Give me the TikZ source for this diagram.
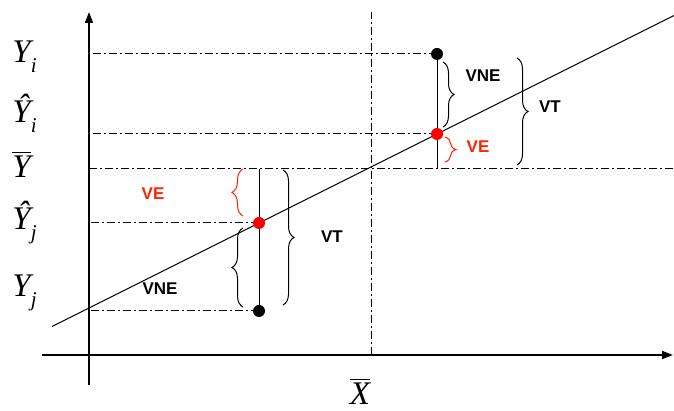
\documentclass[tikz,border=0pt]{standalone}
\usepackage{amsmath}
\usepackage{fontspec}
\setmainfont{Liberation Serif}
\setsansfont{Liberation Sans}
\usepackage{tikz}
\usetikzlibrary{arrows.meta, positioning, decorations.pathreplacing}
\definecolor{vered}{RGB}{255,36,0}
\newcommand{\ty}[1]{\text{\itshape #1}}
\newcommand{\tsub}[1]{\raisebox{-6pt}{\fontsize{21}{22}\selectfont\itshape #1}}

\begin{document}
\begin{tikzpicture}[x=1pt, y=1pt, >={Triangle[length=11pt, width=8pt]}, line width=1pt,
      ax/.style={->, line width=1.6pt},
      guide/.style={line width=1pt, dash pattern=on 8pt off 3pt on 2pt off 3pt},
      pt/.style={circle, fill=black, inner sep=0pt, minimum size=12pt},
      brc/.style={decorate, decoration={brace, amplitude=11pt}, line width=1pt},
      lbl/.style={font=\sffamily\bfseries\fontsize{17}{19}\selectfont, inner sep=1pt},
      ylbl/.style={anchor=base west, font=\fontsize{33}{40}\selectfont, inner sep=0pt}]

    \useasboundingbox (0,0) rectangle (674,411);

    % Axes
    \coordinate (ybot) at (89,26);
    \coordinate (ytop) at (89,399);
    \coordinate (xl)   at (42,56);
    \coordinate (xr)   at (673,56);
    \draw[ax] (ybot) -- (ytop);
    \draw[ax] (xl) -- (xr);

    % Means: vertical at X bar, horizontal at Y bar
    \coordinate (xm0) at (371,56);
    \coordinate (xm1) at (371,399);
    \coordinate (ym0) at (89,242);
    \coordinate (ym1) at (674,242);
    \draw[guide] (xm0) -- (xm1);
    \draw[guide] (ym0) -- (ym1);

    % Regression line
    \coordinate (r0) at (52,84.5);
    \coordinate (r1) at (674,395.5);
    \draw (r0) -- (r1);

    % Observation i (above the mean) and j (below the mean)
    \coordinate (yi)   at (437,357);
    \coordinate (hi)   at (437,277);
    \coordinate (ibar) at (437,242);
    \coordinate (yj)   at (259,100);
    \coordinate (hj)   at (259,188);
    \coordinate (jbar) at (259,242);
    \draw (yi) -- (ibar);
    \draw (jbar) -- (yj);
    \draw[guide] (yi) -- (yi -| ybot);
    \draw[guide] (hi) -- (hi -| ybot);
    \draw[guide] (hj) -- (hj -| ybot);
    \draw[guide] (yj) -- (yj -| ybot);

    \node[pt] (pyi) at (yi) {};
    \node[pt, fill=red] (phi) at (hi) {};
    \node[pt] (pyj) at (yj) {};
    \node[pt, fill=red] (phj) at (hj) {};

    % Braces for i
    \draw[brc] ([shift={(6,-8)}]yi) -- ([shift={(6,7)}]hi);
    \draw[brc, vered] ([shift={(8,-3)}]hi) -- ([shift={(8,7)}]ibar);
    \draw[brc] ([shift={(80,-4)}]yi) -- ([shift={(80,4)}]ibar);
    \node[lbl] (vnei) at (483,335) {VNE};
    \node[lbl, text=vered] (vei) at (478,264) {VE};
    \node[lbl] (vti) at (550,304) {VT};

    % Braces for j
    \draw[brc, vered] ([shift={(-16,7)}]hj) -- ([shift={(-16,0)}]jbar);
    \draw[brc] ([shift={(-16,4)}]yj) -- ([shift={(-16,-5)}]hj);
    \draw[brc] ([shift={(24,-1)}]jbar) -- ([shift={(24,6)}]yj);
    \node[lbl, text=vered] (vej) at (153,217) {VE};
    \node[lbl] (vnej) at (160,122) {VNE};
    \node[lbl] (vtj) at (332,174) {VT};

    % Axis labels
    \node[ylbl] (lyi) at (12,348) {$\ty{Y}_{\tsub{i}}$};
    \node[ylbl] (lhi) at (12,288) {$\ty{\^{Y}}_{\tsub{i}}$};
    \node[ylbl] (lym) at (12,233) {$\overline{\ty{Y}}$};
    \node[ylbl] (lhj) at (12,181) {$\ty{\^{Y}}_{\tsub{j}}$};
    \node[ylbl] (lyj) at (12,114) {$\ty{Y}_{\tsub{j}}$};
    \node[ylbl, anchor=base] (lxm) at (360,6) {$\overline{\ty{X}}$};

\end{tikzpicture}
\end{document}
